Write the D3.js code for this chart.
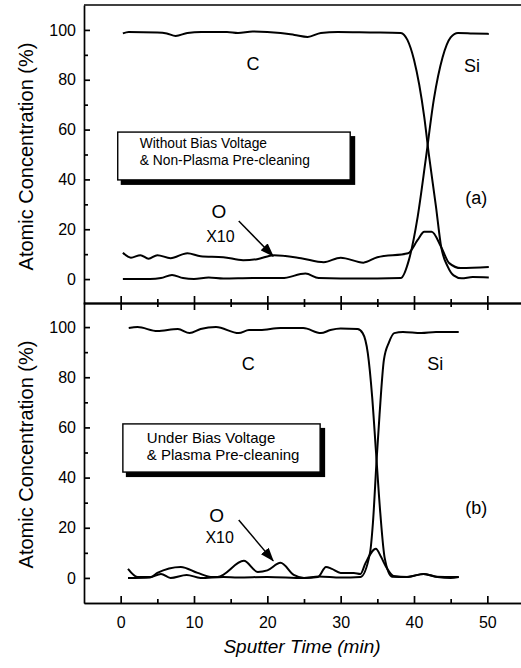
<!DOCTYPE html>
<html>
<head>
<meta charset="utf-8">
<script src="https://cdn.jsdelivr.net/npm/d3@7"></script>
<style>
  body { margin: 0; background: #fff; }
  svg { font-family: "Liberation Sans", Arial, sans-serif; }
  .tick text { font-size: 16px; fill: #000; }
  .domain, .tick line { stroke: #000; stroke-width: 1.7px; }
  .curve { fill: none; stroke: #000; stroke-width: 2px; stroke-linejoin: round; }
</style>
</head>
<body>
<div id="wrapper"></div>
<script>
// data: [sputter time (min), atomic concentration (%)]
const topC = [[0.3,98.6],[1.1,99.2],[5,99],[6.3,98.6],[7.5,97.6],[9.1,98.8],[11,99.2],[14.5,99.2],[16,98.8],[18,99.4],[21.8,98.8],[23.7,98],[25.5,97.2],[27.3,98.8],[29.6,99.2],[34,99],[38.2,98.8],[39.1,96],[40,88],[41.4,65],[42,50.6],[43,29],[43.7,13],[44.6,5],[45.4,1.5],[46.5,0.3],[48,0.8],[50.2,0.6]]
const topSi = [[0.3,0],[4,0],[5.5,0.4],[7,1.6],[8.5,0.4],[10,0],[12,0.6],[14,0.2],[18,0.4],[22,0.4],[25.2,2.2],[27,0.4],[30,0.2],[35,0.2],[38.2,0.4],[39.3,7.6],[40.5,25],[41.6,48],[42.7,72],[43.9,89],[45,97],[46,98.8],[48,98.6],[50.2,98.4]]
const topO = [[0.3,10.6],[1.4,8.6],[2.7,9.6],[3.8,8.2],[5,9.6],[6.8,8.4],[9.1,10.4],[10.9,9.2],[14,8.8],[16.7,7.6],[18.6,8],[20.9,9.6],[24.6,8.4],[27.7,6.8],[30,8.6],[33.1,6.6],[35,8.8],[39.2,10.4],[40.5,15.7],[41.4,19],[42.4,19],[43.7,12.9],[44.8,6.4],[46.4,4.4],[50.2,4.8]]

const botC = [[1.1,99.6],[2.3,100],[5,98.4],[7.8,99.2],[9.4,97.6],[10.9,99.2],[13,100],[16.1,97.6],[17.5,98.8],[19,98.8],[21.8,99.6],[24.9,99.6],[27.3,97.6],[28.6,98.8],[30,99.4],[32.3,99.2],[33,97.6],[33.7,89.6],[34.3,72],[34.8,51],[35.4,26],[36,8],[37,0.5],[39,0.4],[41.3,1.6],[43,0.5],[46.1,0.4]]
const botSi = [[1,0],[4,0.2],[5.5,1.6],[6.8,0],[9,1.2],[10.9,0],[14,0.4],[16,0.2],[20,0.4],[25,0],[27,0.6],[30,0.2],[32.7,0.4],[34,10],[34.4,22],[34.9,47],[35.3,65],[35.9,87],[36.6,94],[37.3,97.6],[38.5,98],[41,97.6],[43,98],[46.1,98]]
const botO = [[1,3.6],[2.3,0.4],[4.1,0.4],[5,2],[8.2,4.4],[10.5,2],[12.3,0.4],[13.2,0.4],[16.8,6.8],[18.7,2.4],[20,3],[21.8,6],[23.6,1.2],[25,0],[26.9,0.4],[28,4.4],[28.8,3.6],[30,2],[31.8,2],[32.7,1.6],[33.4,6],[34.8,11.6],[35.5,8.4],[36.2,4.4],[37.2,0.8],[39.2,0.4],[41.3,1.6],[43.2,0.4],[45,0],[46.1,0.4]]

const xMajor = [0, 10, 20, 30, 40, 50]
const xMinor = [5, 15, 25, 35, 45]
const yMajor = [0, 20, 40, 60, 80, 100]
const yMinor = [10, 30, 50, 70, 90]

const panels = [
  { series: [topC, topSi, topO], range: [304, 5],
    boxLines: ["Without Bias Voltage", "& Non-Plasma Pre-cleaning"], boxFont: 13.8,
    box: { x0: -0.4, x1: 31.3, y0: 59, y1: 39.8 },
    labels: [["C", 18.05, 83.9], ["Si", 47.9, 83.1], ["(a)", 48.5, 30.1]],
    o: [13.4, 24.5], x10: [13.6, 14.9], arrow: [16.1, 23.3, 20.8, 9.2] },
  { series: [botC, botSi, botO], range: [603, 302],
    boxLines: ["Under Bias Voltage", "& Plasma Pre-cleaning"], boxFont: 15,
    box: { x0: 0.3, x1: 27.2, y0: 61.4, y1: 42.2 },
    labels: [["C", 17.4, 82.9], ["Si", 42.9, 82.9], ["(b)", 48.5, 25.5]],
    o: [13.1, 22.3], x10: [13.5, 13.9], arrow: [16.1, 23.1, 20.8, 6.8] },
]

function drawChart() {
  const width = 521
  const height = 668

  const svg = d3.select("#wrapper").append("svg")
    .attr("width", width)
    .attr("height", height)

  const defs = svg.append("defs")
  defs.append("marker")
    .attr("id", "arrowhead")
    .attr("viewBox", "0 0 14 10")
    .attr("refX", 13).attr("refY", 5)
    .attr("markerWidth", 14).attr("markerHeight", 10)
    .attr("markerUnits", "userSpaceOnUse")
    .attr("orient", "auto")
    .append("path")
    .attr("d", "M0,0 L14,5 L0,10 Z")
    .attr("fill", "#000")

  const xScale = d3.scaleLinear()
    .domain([-5, 55])
    .range([84, 524])

  // top frame line
  svg.append("line")
    .attr("x1", xScale(-5)).attr("x2", xScale(55))
    .attr("y1", 5).attr("y2", 5)
    .attr("stroke", "#000").attr("stroke-width", 1.7)

  panels.forEach((p, i) => {
    const yScale = d3.scaleLinear()
      .domain([-10, 110])
      .range(p.range)

    const g = svg.append("g")

    // left axis, ticks pointing inward
    g.append("g")
      .attr("transform", `translate(${xScale(-5)},0)`)
      .call(d3.axisLeft(yScale).tickValues(yMajor).tickSizeInner(-6).tickSizeOuter(0).tickPadding(8))
    g.append("g")
      .attr("transform", `translate(${xScale(-5)},0)`)
      .call(d3.axisLeft(yScale).tickValues(yMinor).tickSizeInner(-4).tickSizeOuter(0).tickFormat(""))
      .select(".domain").remove()

    // curves
    const line = d3.line()
      .x(d => xScale(d[0]))
      .y(d => yScale(d[1]))
      .curve(d3.curveMonotoneX)
    g.selectAll(".curve")
      .data(p.series)
      .join("path")
      .attr("class", "curve")
      .attr("d", line)

    // legend box with shadow
    const bx = xScale(p.box.x0), by = yScale(p.box.y0)
    const bw = xScale(p.box.x1) - bx, bh = yScale(p.box.y1) - by
    g.append("rect")
      .attr("x", bx + 3).attr("y", by + 4)
      .attr("width", bw + 2).attr("height", bh + 1)
      .attr("fill", "#000")
    g.append("rect")
      .attr("x", bx).attr("y", by)
      .attr("width", bw).attr("height", bh)
      .attr("fill", "#fff").attr("stroke", "#000").attr("stroke-width", 1.4)
    g.selectAll(".box-text")
      .data(p.boxLines)
      .join("text")
      .attr("class", "box-text")
      .attr("x", bx + 22 + i * 2)
      .attr("y", (d, j) => by + 16 + i * 3 + j * 17)
      .attr("font-size", p.boxFont)
      .text(d => d)

    // element labels
    g.selectAll(".elem")
      .data(p.labels)
      .join("text")
      .attr("class", "elem")
      .attr("x", d => xScale(d[1]))
      .attr("y", d => yScale(d[2]))
      .attr("text-anchor", "middle")
      .attr("font-size", 18)
      .text(d => d[0])

    g.append("text")
      .attr("x", xScale(p.o[0])).attr("y", yScale(p.o[1]))
      .attr("text-anchor", "middle").attr("font-size", 19)
      .text("O")
    g.append("text")
      .attr("x", xScale(p.x10[0])).attr("y", yScale(p.x10[1]))
      .attr("text-anchor", "middle").attr("font-size", 16)
      .text("X10")
    g.append("line")
      .attr("x1", xScale(p.arrow[0])).attr("y1", yScale(p.arrow[1]))
      .attr("x2", xScale(p.arrow[2])).attr("y2", yScale(p.arrow[3]))
      .attr("stroke", "#000").attr("stroke-width", 1.5)
      .attr("marker-end", "url(#arrowhead)")

    // y axis title
    const mid = (p.range[0] + p.range[1]) / 2
    g.append("text")
      .attr("transform", `translate(33,${mid + 2}) rotate(-90)`)
      .attr("text-anchor", "middle")
      .attr("font-size", 20)
      .text("Atomic Concentration (%)")
  })

  // middle axis: ticks cross the line
  const midY = 303
  svg.append("g")
    .attr("transform", `translate(0,${midY})`)
    .call(d3.axisBottom(xScale).tickValues(xMajor).tickSizeInner(7).tickSizeOuter(0).tickFormat(""))
  svg.append("g")
    .attr("transform", `translate(0,${midY})`)
    .call(d3.axisTop(xScale).tickValues(xMajor).tickSizeInner(7).tickSizeOuter(0).tickFormat(""))
  svg.append("g")
    .attr("transform", `translate(0,${midY})`)
    .call(d3.axisBottom(xScale).tickValues(xMinor).tickSizeInner(4).tickSizeOuter(0).tickFormat(""))
  svg.append("g")
    .attr("transform", `translate(0,${midY})`)
    .call(d3.axisTop(xScale).tickValues(xMinor).tickSizeInner(4).tickSizeOuter(0).tickFormat(""))

  // bottom axis: ticks pointing up
  const botY = 603
  svg.append("g")
    .attr("transform", `translate(0,${botY})`)
    .call(d3.axisBottom(xScale).tickValues(xMajor).tickSizeInner(-7).tickSizeOuter(0).tickPadding(14))
  svg.append("g")
    .attr("transform", `translate(0,${botY})`)
    .call(d3.axisBottom(xScale).tickValues(xMinor).tickSizeInner(-4).tickSizeOuter(0).tickFormat(""))

  svg.append("text")
    .attr("x", 302)
    .attr("y", 653)
    .attr("text-anchor", "middle")
    .attr("font-size", 19)
    .attr("font-style", "italic")
    .text("Sputter Time (min)")
}

drawChart()
</script>
</body>
</html>
